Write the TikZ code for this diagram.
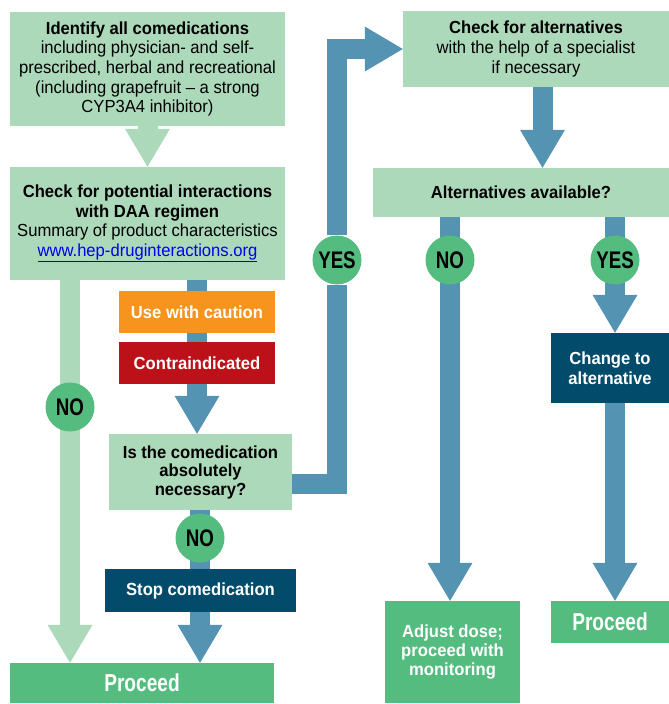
\documentclass[tikz,border=0pt]{standalone}
\usepackage{fontspec}
\setmainfont{Liberation Sans}[FakeStretch=0.95]
\newfontfamily\narrowFont{Liberation Sans}[FakeStretch=0.78]
\usetikzlibrary{arrows.meta,backgrounds}
\definecolor{paleGreen}{RGB}{173,217,187}
\definecolor{midGreen}{RGB}{85,188,128}
\definecolor{flowBlue}{RGB}{84,148,178}
\definecolor{deepBlue}{RGB}{3,75,106}
\definecolor{cautionOrange}{RGB}{247,148,30}
\definecolor{contraRed}{RGB}{189,17,25}
\definecolor{linkBlue}{RGB}{0,0,238}

\begin{document}
\begin{tikzpicture}[x=1pt, y=1pt,
    stepBox/.style={fill=paleGreen, inner sep=0pt, align=center, font=\fontsize{17.5}{19.6}\selectfont},
    darkBox/.style={fill=deepBlue, text=white, inner sep=0pt, align=center, font=\bfseries\fontsize{17.5}{19.6}\selectfont},
    endBox/.style={fill=midGreen, text=white, inner sep=0pt, align=center, font=\bfseries\fontsize{17.5}{19}\selectfont},
    bigEnd/.style={endBox, font=\narrowFont\bfseries\fontsize{24.5}{25}\selectfont},
    flagBox/.style={text=white, inner sep=0pt, minimum width=156pt, minimum height=42pt, font=\bfseries\fontsize{17.5}{19}\selectfont},
    answer/.style={circle, fill=midGreen, inner sep=0pt, minimum size=49pt, font=\narrowFont\bfseries\fontsize{24}{24}\selectfont},
    paleArrow/.style={draw=paleGreen, line width=20pt, -{Triangle[width=45pt, length=38pt, line width=0pt]}},
    blueArrow/.style={draw=flowBlue, line width=20pt, -{Triangle[width=45pt, length=38pt, line width=0pt]}}]

    \useasboundingbox (0,0) rectangle (669,-704);

    % left column
    \node[stepBox, minimum width=275pt, minimum height=114pt] (ident) at (147.5,-69)
        {\textbf{Identify all comedications}\\including physician- and self-\\prescribed, herbal and recreational\\(including grapefruit -- a strong\\CYP3A4 inhibitor)};
    \node[stepBox, minimum width=275pt, minimum height=113pt] (check) at (147.5,-223.5)
        {\textbf{Check for potential interactions}\\\textbf{with DAA regimen}\\Summary of product characteristics\\{\color{linkBlue}\underline{www.hep-druginteractions.org}}};
    \node[flagBox, fill=cautionOrange] (caution) at (197,-312) {Use with caution};
    \node[flagBox, fill=contraRed] (contra) at (197,-363) {Contraindicated};
    \node[stepBox, minimum width=183pt, minimum height=76pt, font=\bfseries\fontsize{17.5}{18.5}\selectfont] (necc) at (200.5,-472)
        {Is the comedication\\absolutely\\necessary?};
    \node[darkBox, minimum width=191pt, minimum height=43pt] (stop) at (200.5,-590.5) {Stop comedication};
    \node[bigEnd, minimum width=264pt, minimum height=40pt] (proceedL) at (142,-683) {Proceed};
    \node[answer] (noL) at (70,-407) {NO};
    \node[answer] (noS) at (200,-538) {NO};
    \node[answer] (yesM) at (337,-260) {YES};

    % right column
    \node[stepBox, minimum width=266pt, minimum height=76pt] (alt) at (536,-49)
        {\textbf{Check for alternatives}\\with the help of a specialist\\if necessary};
    \node[stepBox, minimum width=296pt, minimum height=49pt, font=\bfseries\fontsize{17.5}{19}\selectfont] (avail) at (521,-192.5) {Alternatives available?};
    \node[answer] (noR) at (450,-260) {NO};
    \node[answer] (yesR) at (615,-260) {YES};
    \node[darkBox, minimum width=118pt, minimum height=70pt] (change) at (610,-368) {Change to\\alternative};
    \node[endBox, minimum width=135pt, minimum height=102pt] (adjust) at (452.5,-652) {Adjust dose;\\proceed with\\monitoring};
    \node[bigEnd, minimum width=118pt, minimum height=42pt] (proceedR) at (610,-622) {Proceed};
    \coordinate (altDrop) at (542.5,-87);

    \begin{pgfonlayer}{background}
        \draw[paleArrow] (ident.south) -- (check.north);
        \draw[paleArrow] (noL |- check.south) -- (noL |- proceedL.north);
        \draw[blueArrow] (caution |- check.south) -- (caution |- necc.north);
        \draw[blueArrow] (noS |- necc.south) -- (noS |- proceedL.north);
        \draw[blueArrow] ([yshift=-12pt]necc.east) -| (yesM) |- (alt.west);
        \draw[blueArrow] (altDrop) -- (altDrop |- avail.north);
        \draw[blueArrow] (noR |- avail.south) -- (noR |- adjust.north);
        \draw[blueArrow] (yesR |- avail.south) -- (yesR |- change.north);
        \draw[blueArrow] (yesR |- change.south) -- (yesR |- proceedR.north);
    \end{pgfonlayer}
\end{tikzpicture}
\end{document}
